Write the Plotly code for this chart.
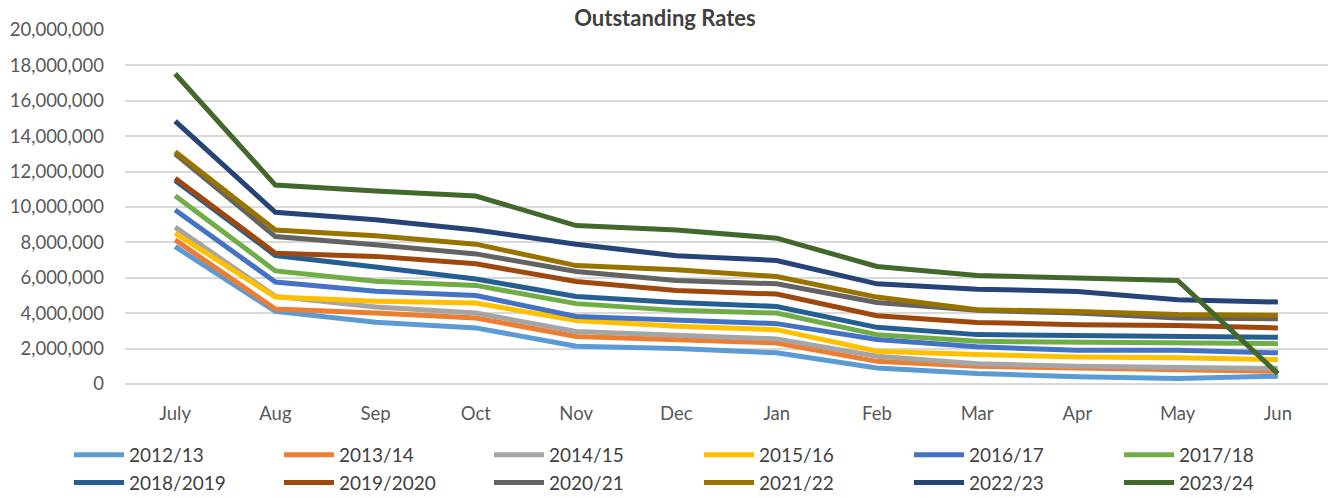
import plotly.graph_objects as go

months = ["July", "Aug", "Sep", "Oct", "Nov", "Dec", "Jan", "Feb", "Mar", "Apr", "May", "Jun"]

s_2012_13 = [7760000, 4100000, 3490000, 3170000, 2130000, 2000000, 1760000, 910000, 590000, 410000, 310000, 440000]
s_2013_14 = [8140000, 4240000, 4010000, 3730000, 2690000, 2510000, 2320000, 1280000, 1000000, 910000, 780000, 720000]
s_2014_15 = [8860000, 4950000, 4350000, 4010000, 2970000, 2790000, 2550000, 1570000, 1150000, 1000000, 970000, 870000]
s_2015_16 = [8520000, 4910000, 4670000, 4570000, 3590000, 3260000, 3070000, 1850000, 1660000, 1530000, 1480000, 1380000]
s_2016_17 = [9830000, 5760000, 5240000, 5000000, 3820000, 3630000, 3410000, 2510000, 2100000, 1900000, 1900000, 1760000]
s_2017_18 = [10640000, 6390000, 5800000, 5570000, 4540000, 4160000, 4010000, 2790000, 2410000, 2350000, 2320000, 2280000]
s_2018_2019 = [11500000, 7260000, 6610000, 5930000, 4950000, 4610000, 4380000, 3200000, 2790000, 2750000, 2690000, 2640000]
s_2019_2020 = [11620000, 7390000, 7210000, 6790000, 5790000, 5280000, 5080000, 3860000, 3480000, 3350000, 3300000, 3170000]
s_2020_21 = [13000000, 8330000, 7870000, 7350000, 6360000, 5850000, 5660000, 4610000, 4160000, 4010000, 3730000, 3690000]
s_2021_22 = [13120000, 8700000, 8380000, 7900000, 6690000, 6450000, 6070000, 4910000, 4200000, 4100000, 3920000, 3880000]
s_2022_23 = [14850000, 9700000, 9280000, 8700000, 7900000, 7240000, 6980000, 5660000, 5360000, 5230000, 4760000, 4630000]
s_2023_24 = [17530000, 11240000, 10910000, 10620000, 8950000, 8700000, 8240000, 6640000, 6130000, 5980000, 5850000, 590000]

series_names = ["2012/13", "2013/14", "2014/15", "2015/16", "2016/17", "2017/18",
                "2018/2019", "2019/2020", "2020/21", "2021/22", "2022/23", "2023/24"]
series_values = [s_2012_13, s_2013_14, s_2014_15, s_2015_16, s_2016_17, s_2017_18,
                 s_2018_2019, s_2019_2020, s_2020_21, s_2021_22, s_2022_23, s_2023_24]
colors = ["#5B9BD5", "#ED7D31", "#A5A5A5", "#FFC000", "#4472C4", "#70AD47",
          "#255E91", "#9E480E", "#636363", "#997300", "#264478", "#43682B"]

y_ticks = list(range(0, 20000001, 2000000))

fig = go.Figure()
for name, vals, col in zip(series_names, series_values, colors):
    fig.add_trace(go.Scatter(
        x=months, y=vals, name=name, mode="lines",
        line=dict(color=col, width=5),
    ))

PL, PT, PW, PH = 125, 30, 1203, 354
FONT = "Lato, 'Open Sans', sans-serif"
fig.update_layout(
    width=1330, height=497,
    margin=dict(l=PL, r=1330 - PL - PW, t=PT, b=497 - PT - PH, autoexpand=False),
    paper_bgcolor="white", plot_bgcolor="white",
    title=dict(text="<b>Outstanding Rates</b>", x=0.5, xanchor="center",
               y=1 - 18 / 497, yanchor="middle",
               font=dict(family=FONT, size=22, color="#404040")),
    font=dict(family=FONT, size=18.5, color="#595959"),
    showlegend=True,
    legend=dict(orientation="h", x=(69 - PL) / PW, xanchor="left",
                y=(PT + PH - 436) / PH, yanchor="top",
                entrywidth=145, entrywidthmode="pixels",
                font=dict(family=FONT, size=19, color="#404040"),
                tracegroupgap=0, itemwidth=50),
)
fig.update_xaxes(
    type="category", range=[-0.5, 11.5], showgrid=False, showline=False,
    ticks="", tickfont=dict(family=FONT, size=18.5, color="#595959"),
    zeroline=False, automargin=False, ticklabelstandoff=16,
)
fig.update_yaxes(
    range=[0, 20000000], tickvals=y_ticks, tickformat=",d",
    showgrid=True, gridcolor="#D9D9D9", gridwidth=2,
    zeroline=True, zerolinecolor="#D9D9D9", zerolinewidth=2,
    showline=False, ticks="", ticklabelstandoff=20, automargin=False,
    tickfont=dict(family=FONT, size=18.5, color="#595959"),
)

fig.write_html("out.html", config={"displayModeBar": False},
               post_script="document.body.style.margin='0';")
